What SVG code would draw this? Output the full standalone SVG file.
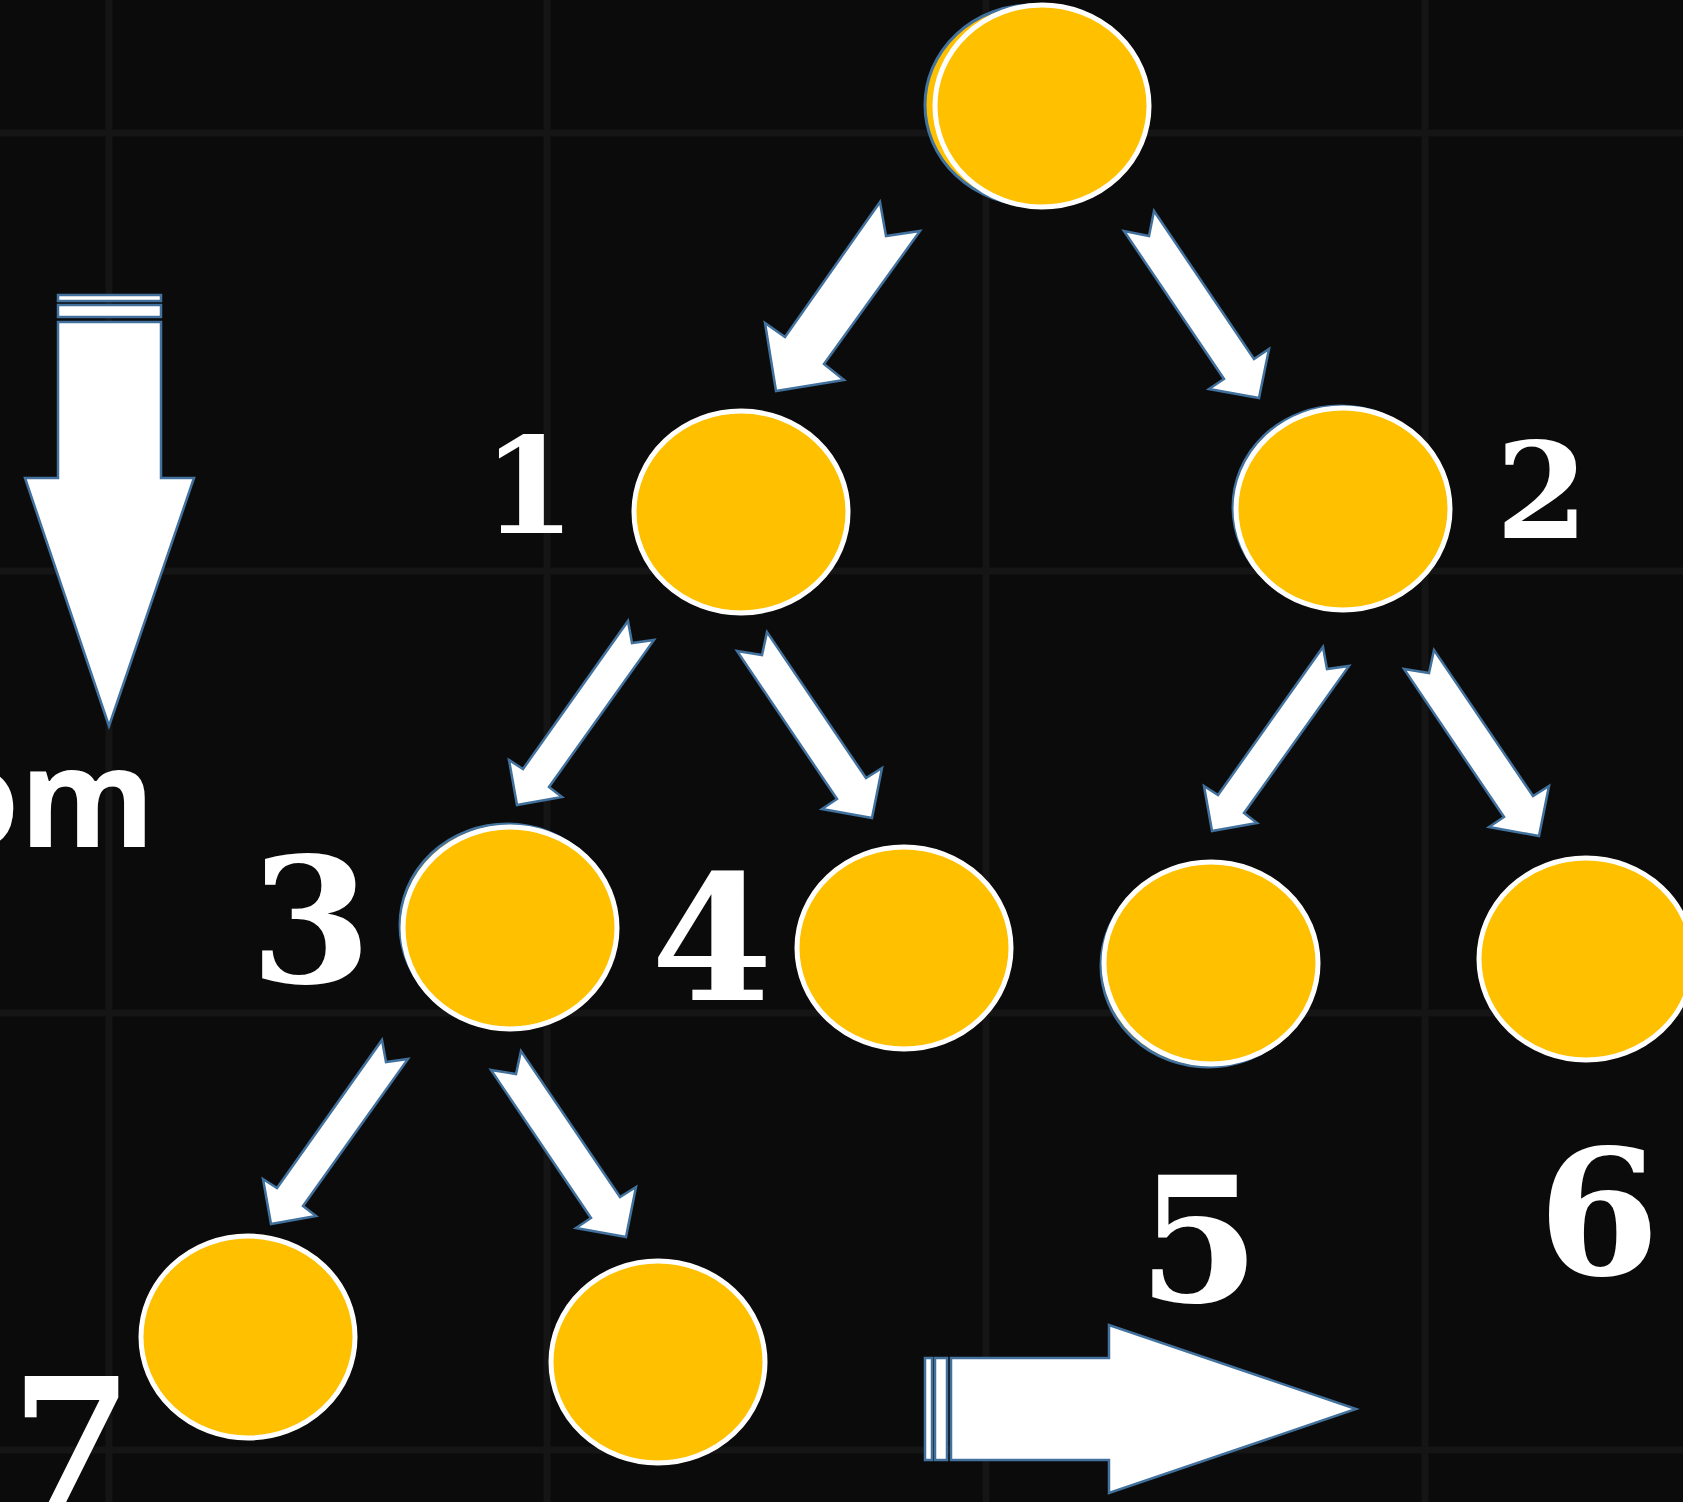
<svg xmlns="http://www.w3.org/2000/svg" width="1683" height="1502" viewBox="0 0 1683 1502">
<style>
.bg{fill:#0b0b0b}
.grid{stroke:#151515;stroke-width:7;fill:none}
.node{fill:#FFC000;stroke:#ffffff;stroke-width:5}
.shadow{fill:#FFC000;stroke:#41719C;stroke-width:3}
.arr{fill:#ffffff;stroke:#41719C;stroke-width:2.5;stroke-linejoin:miter}
.num{font-family:"DejaVu Serif","Liberation Serif",serif;font-weight:bold;fill:#ffffff;text-anchor:middle}
.word{font-family:"Open Sans","Liberation Sans",sans-serif;font-weight:bold;fill:#ffffff}
</style>
<defs>
<polygon id="arrL" points="628,621 632,643 654,640 549,787 562,797 517,805 509,760 523,769"/>
<polygon id="arrR" points="767,632 762,655 737,651 837,799 822,809 872,818 882,768 866,778"/>
</defs>
<rect class="bg" x="0" y="0" width="1683" height="1502"/>
<g id="grid">
<line class="grid" x1="109" y1="0" x2="109" y2="1502"/>
<line class="grid" x1="547" y1="0" x2="547" y2="1502"/>
<line class="grid" x1="986" y1="0" x2="986" y2="1502"/>
<line class="grid" x1="1425" y1="0" x2="1425" y2="1502"/>
<line class="grid" x1="0" y1="133" x2="1683" y2="133"/>
<line class="grid" x1="0" y1="571" x2="1683" y2="571"/>
<line class="grid" x1="0" y1="1013" x2="1683" y2="1013"/>
<line class="grid" x1="0" y1="1450" x2="1683" y2="1450"/>
</g>
<g id="connectors">
<polygon class="arr" points="880,202 886,236 920,231 824,364 844,380 776,391 765,323 785,337"/>
<polygon class="arr" points="1154,211 1149,236 1124,231 1224,379 1209,389 1259,398 1269,349 1254,359"/>
<use href="#arrL" class="arr"/>
<use href="#arrR" class="arr"/>
<use href="#arrL" class="arr" transform="translate(695,26)"/>
<use href="#arrR" class="arr" transform="translate(667,18)"/>
<use href="#arrL" class="arr" transform="translate(-246,419)"/>
<use href="#arrR" class="arr" transform="translate(-246,419)"/>
</g>
<g id="down-arrow">
<rect class="arr" x="58" y="295" width="103" height="6"/>
<rect class="arr" x="58" y="305" width="103" height="12"/>
<polygon class="arr" points="58,322 161,322 161,478 194,478 109,726 25,478 58,478"/>
</g>
<g id="right-arrow">
<rect class="arr" x="925" y="1358" width="7" height="102"/>
<rect class="arr" x="935" y="1358" width="12" height="102"/>
<polygon class="arr" points="951,1358 1109,1358 1109,1325 1356,1409 1109,1493 1109,1460 951,1460"/>
</g>
<text class="word" x="-66" y="847" font-size="138">om</text>
<g id="node-root">
<ellipse class="shadow" cx="1032" cy="105" rx="107" ry="100"/>
<ellipse class="node" cx="1042" cy="106" rx="107" ry="101"/>
</g>
<g id="node-1">
<ellipse class="node" cx="741" cy="512" rx="107" ry="101"/>
<text class="num" x="529" y="533" font-size="133">1</text>
</g>
<g id="node-2">
<ellipse class="shadow" cx="1340" cy="507" rx="107" ry="101"/>
<ellipse class="node" cx="1343" cy="509" rx="107" ry="101"/>
<text class="num" x="1542" y="538" font-size="133">2</text>
</g>
<g id="node-3">
<ellipse class="shadow" cx="507" cy="925" rx="107" ry="101"/>
<ellipse class="node" cx="510" cy="928" rx="107" ry="101"/>
<text class="num" x="311" y="983" font-size="175">3</text>
</g>
<g id="node-4">
<ellipse class="node" cx="904" cy="948" rx="107" ry="101"/>
<text class="num" x="712" y="1000" font-size="175">4</text>
</g>
<g id="node-5">
<ellipse class="shadow" cx="1208" cy="966" rx="107" ry="101"/>
<ellipse class="node" cx="1211" cy="963" rx="107" ry="101"/>
<text class="num" x="1199" y="1302" font-size="175">5</text>
</g>
<g id="node-6">
<ellipse class="node" cx="1586" cy="959" rx="107" ry="101"/>
<text class="num" x="1599" y="1275" font-size="175">6</text>
</g>
<g id="node-7">
<ellipse class="node" cx="248" cy="1337" rx="107" ry="101"/>
<text class="num" x="72" y="1503" font-size="175">7</text>
</g>
<g id="node-8">
<ellipse class="node" cx="658" cy="1362" rx="107" ry="101"/>
</g>
</svg>
